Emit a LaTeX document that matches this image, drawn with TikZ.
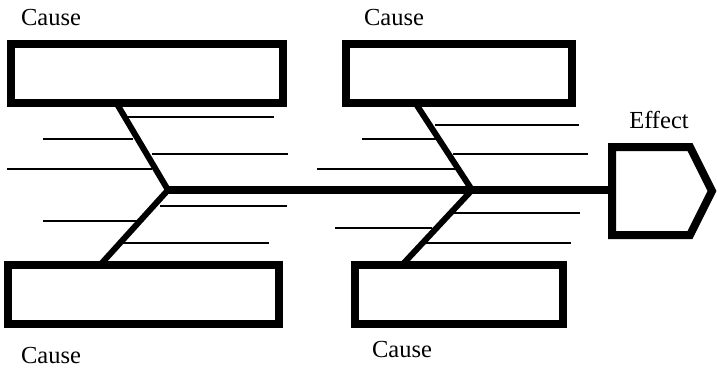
\documentclass[tikz,border=0pt]{standalone}
\usepackage{fontspec}
\setmainfont{Liberation Serif}
\begin{document}
\begin{tikzpicture}[x=1pt,y=-1pt,
  causebox/.style={draw=black,line width=8pt,rectangle,inner sep=0pt,minimum height=59pt},
  bone/.style={line width=6pt,line cap=butt},
  spine/.style={line width=7.5pt},
  rib/.style={line width=2pt},
  lbl/.style={font=\fontsize{24.5}{28}\selectfont,anchor=base,inner sep=0pt}]
\useasboundingbox (0,0) rectangle (717,367);
% cause boxes
\node[causebox,minimum width=272pt] (tl) at (147,73.5) {};
\node[causebox,minimum width=226pt] (tr) at (459,73.5) {};
\node[causebox,minimum width=271pt] (bl) at (143.5,294.5) {};
\node[causebox,minimum width=208pt] (br) at (459,294.5) {};
% labels
\node[lbl] (ltl) at (51,25) {Cause};
\node[lbl] (ltr) at (394,25) {Cause};
\node[lbl] (lbl) at (51,363) {Cause};
\node[lbl] (lbr) at (402,357) {Cause};
\node[lbl] (leff) at (659,128) {Effect};
% junctions and bone ends
\coordinate (j1) at (168,190);
\coordinate (j2) at (472,190);
\coordinate (tla) at (117,104);
\coordinate (tra) at (416,104);
\coordinate (bla) at (101,264);
\coordinate (bra) at (403,264);
\coordinate (eff) at (612,190);
% effect box
\draw[line width=8pt,line join=miter] (612,147) -- (690,147) -- (712,191) -- (690,235) -- (612,235) -- cycle;
% spine
\draw[spine] (j1) -- (eff);
% bones
\draw[bone,line join=miter] (tla) -- (j1) -- (bla);
\draw[bone,line join=miter] (tra) -- (j2) -- (bra);
% ribs, left fish
\draw[rib] (128,117) -- (274,117);
\draw[rib] (43,139) -- (133,139);
\draw[rib] (152,154) -- (288,154);
\draw[rib] (7,169) -- (152,169);
\draw[rib] (160,206) -- (287,206);
\draw[rib] (43,221) -- (140,221);
\draw[rib] (123,243) -- (269,243);
% ribs, right fish
\draw[rib] (435,125) -- (579,125);
\draw[rib] (362,139) -- (437,139);
\draw[rib] (453,154) -- (588,154);
\draw[rib] (317,169) -- (457,169);
\draw[rib] (453,213) -- (580,213);
\draw[rib] (335,228) -- (432,228);
\draw[rib] (425,243) -- (571,243);
\end{tikzpicture}
\end{document}
